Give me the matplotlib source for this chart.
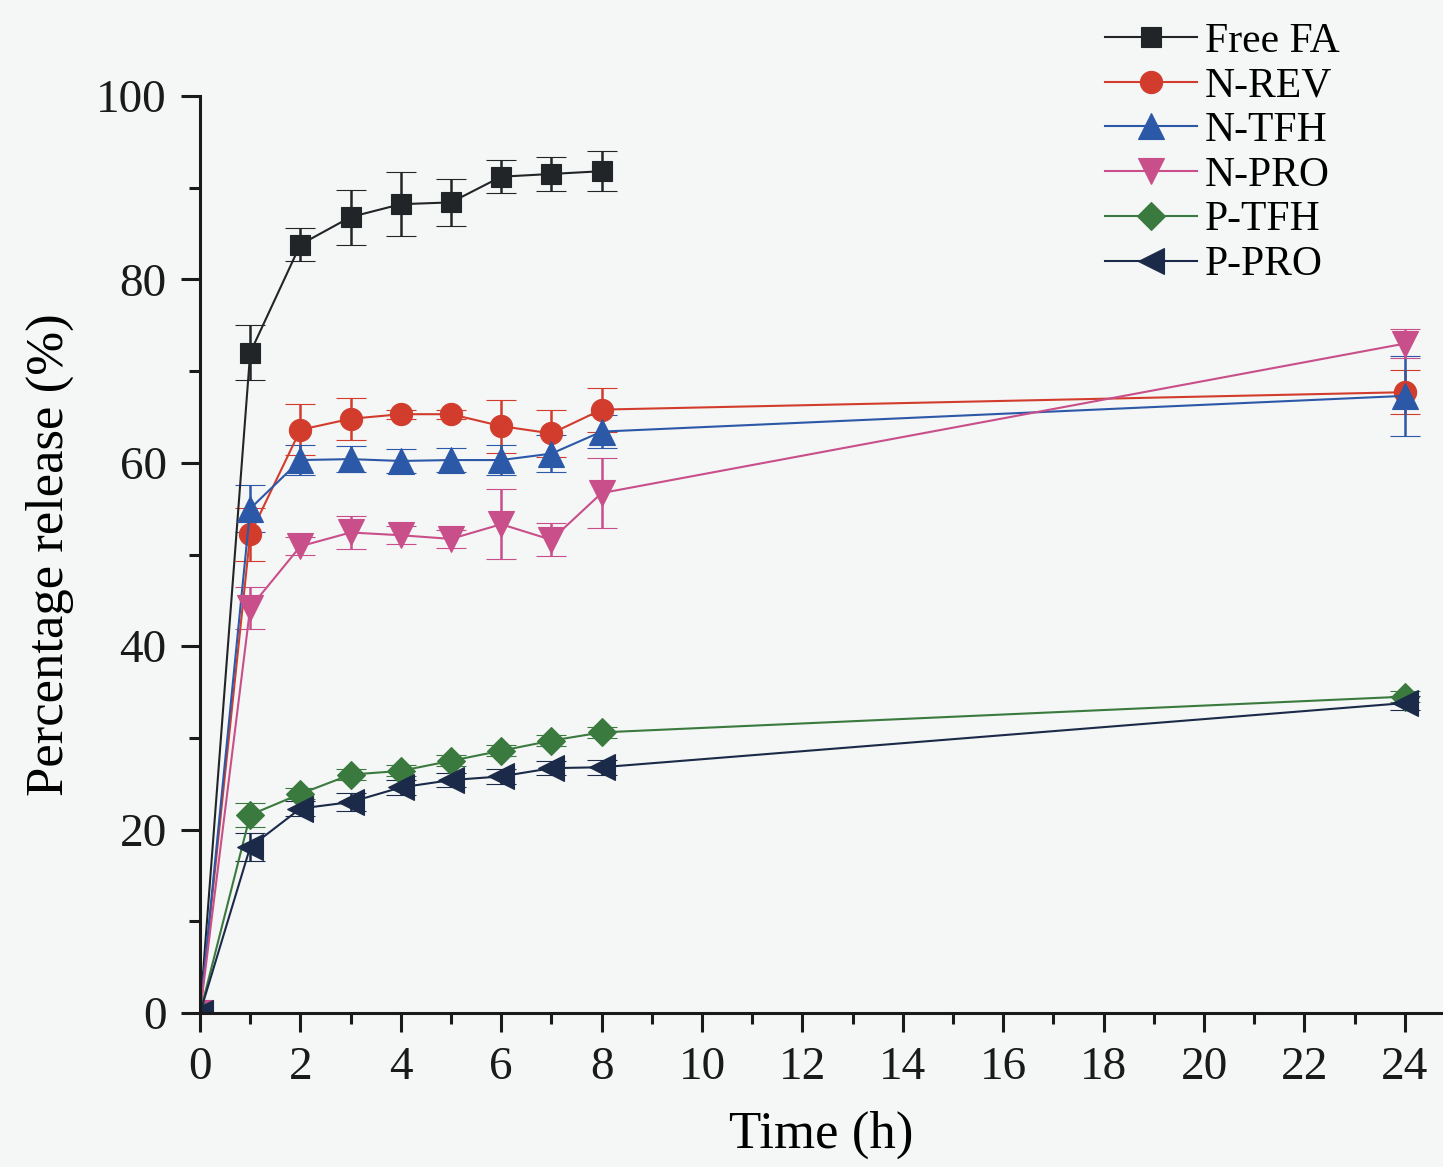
import numpy as np
import matplotlib.pyplot as plt
from matplotlib.ticker import MultipleLocator

plt.rcParams['font.family'] = ['Liberation Serif', 'DejaVu Serif']

# datos
t = [0, 1, 2, 3, 4, 5, 6, 7, 8, 24]
t_free = [0, 1, 2, 3, 4, 5, 6, 7, 8]

free_fa = [0, 72.0, 83.8, 86.8, 88.2, 88.4, 91.2, 91.5, 91.8]
free_fa_err = [0, 3.0, 1.8, 3.0, 3.5, 2.6, 1.8, 1.9, 2.2]

n_rev = [0, 52.2, 63.6, 64.8, 65.3, 65.3, 64.0, 63.2, 65.8, 67.7]
n_rev_err = [0, 2.9, 2.8, 2.3, 0.5, 0.5, 2.9, 2.6, 2.4, 2.4]

n_tfh = [0, 55.0, 60.3, 60.4, 60.2, 60.3, 60.3, 61.0, 63.4, 67.3]
n_tfh_err = [0, 2.6, 1.6, 1.4, 1.3, 1.3, 1.6, 2.0, 1.8, 4.4]

n_pro = [0, 44.2, 50.9, 52.4, 52.1, 51.7, 53.3, 51.6, 56.7, 73.0]
n_pro_err = [0, 2.3, 1.0, 1.8, 1.0, 1.0, 3.8, 1.8, 3.8, 1.6]

p_tfh = [0, 21.6, 23.9, 26.0, 26.4, 27.5, 28.6, 29.7, 30.6, 34.5]
p_tfh_err = [0, 1.3, 0.6, 0.6, 0.6, 0.6, 0.6, 0.6, 0.6, 0.6]

p_pro = [0, 18.1, 22.3, 23.0, 24.6, 25.4, 25.8, 26.7, 26.8, 33.8]
p_pro_err = [0, 1.5, 0.8, 1.0, 0.8, 0.8, 0.8, 0.8, 0.8, 0.8]

series = [
    ('Free FA', t_free, free_fa, free_fa_err, 's', '#222527', 15),
    ('N-REV', t, n_rev, n_rev_err, 'o', '#d23c2c', 16),
    ('N-TFH', t, n_tfh, n_tfh_err, '^', '#2c58a8', 19),
    ('N-PRO', t, n_pro, n_pro_err, 'v', '#c94f8a', 19),
    ('P-TFH', t, p_tfh, p_tfh_err, 'D', '#3b7a3e', 14),
    ('P-PRO', t, p_pro, p_pro_err, '<', '#1b2a48', 19),
]

fig = plt.figure(figsize=(14.43, 11.67), dpi=100, facecolor='#f5f6f6')
ax = fig.add_axes([200 / 1443, 1 - 1013 / 1167, 1 - 200 / 1443, (1013 - 96) / 1167])
ax.set_facecolor('none')

handles = []
for name, x, y, e, m, c, ms in series:
    cont = ax.errorbar(x, y, yerr=e, color=c, marker=m, markersize=ms, lw=1.5,
                       elinewidth=1.8, capsize=11, capthick=1.8, label=name,
                       markeredgecolor=c, markeredgewidth=0.8)
    handles.append(cont[0])

ax.set_xlim(0, 24.76)
ax.set_ylim(0, 100)
ax.xaxis.set_major_locator(MultipleLocator(2))
ax.xaxis.set_minor_locator(MultipleLocator(1))
ax.yaxis.set_major_locator(MultipleLocator(20))
ax.yaxis.set_minor_locator(MultipleLocator(10))

for s in ['top', 'right']:
    ax.spines[s].set_visible(False)
for s in ['left', 'bottom']:
    ax.spines[s].set_linewidth(2.2)
    ax.spines[s].set_color('#1a1a1a')

ax.tick_params(which='major', direction='out', length=14, width=2.2,
               labelsize=34, pad=10, colors='#1a1a1a')
ax.tick_params(which='minor', direction='out', length=8, width=2.2, colors='#1a1a1a')

ax.set_xlabel('Time (h)', fontsize=38, labelpad=16)
ax.set_ylabel('Percentage release (%)', fontsize=38, labelpad=16)

leg = ax.legend(handles, [s[0] for s in series], loc='upper left',
                bbox_to_anchor=(1105 / 1443, 1 - 22 / 1167),
                bbox_transform=fig.transFigure, frameon=False, fontsize=30,
                handlelength=2.2, handletextpad=0.2, labelspacing=0.15,
                borderpad=0, borderaxespad=0)

fig.savefig('out.png', dpi=100, facecolor=fig.get_facecolor())
